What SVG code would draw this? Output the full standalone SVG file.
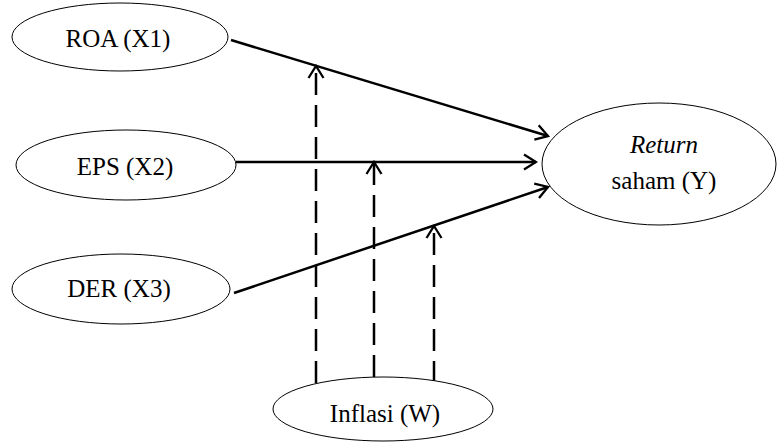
<svg xmlns="http://www.w3.org/2000/svg" width="778" height="442" viewBox="0 0 778 442">
<style>
.n{fill:#fff;stroke:#000;stroke-width:1}
.t{font-family:"Liberation Serif","Times New Roman",serif;font-size:25px;fill:#000;text-anchor:middle}
.c{stroke:#000;stroke-width:2.5;fill:none}
.d{stroke:#000;stroke-width:2.5;fill:none;stroke-dasharray:22,10}
</style>
<defs>
<marker id="a" viewBox="0 0 16 18" refX="14" refY="9" markerWidth="16" markerHeight="18" markerUnits="userSpaceOnUse" orient="auto">
<path d="M2,1.5 L14,9 L2,16.5" fill="none" stroke="#000" stroke-width="2.3"/>
</marker>
</defs>
<rect width="778" height="442" fill="#fff"/>
<g id="connectors">
<line class="c" x1="231" y1="40" x2="548" y2="136" marker-end="url(#a)"/>
<line class="c" x1="236" y1="162" x2="536" y2="162" marker-end="url(#a)"/>
<line class="c" x1="234" y1="293" x2="548" y2="187" marker-end="url(#a)"/>
<line class="d" x1="316" y1="383" x2="316" y2="66" marker-end="url(#a)"/>
<line class="d" x1="374" y1="377" x2="374" y2="162" marker-end="url(#a)"/>
<line class="d" x1="434" y1="383" x2="434" y2="226" marker-end="url(#a)"/>
</g>
<g id="roa"><ellipse class="n" cx="120" cy="37" rx="108" ry="34"/><text class="t" x="118" y="47">ROA (X1)</text></g>
<g id="eps"><ellipse class="n" cx="126" cy="165" rx="110" ry="35"/><text class="t" x="125" y="175">EPS (X2)</text></g>
<g id="der"><ellipse class="n" cx="121" cy="289" rx="109" ry="35"/><text class="t" x="119" y="297">DER (X3)</text></g>
<g id="ret"><ellipse class="n" cx="659" cy="164" rx="117" ry="61"/><text class="t" x="664" y="153" font-style="italic">Return</text><text class="t" x="664" y="189">saham (Y)</text></g>
<g id="inf"><ellipse class="n" cx="383" cy="409" rx="110" ry="32"/><text class="t" x="385" y="422">Inflasi (W)</text></g>
</svg>
